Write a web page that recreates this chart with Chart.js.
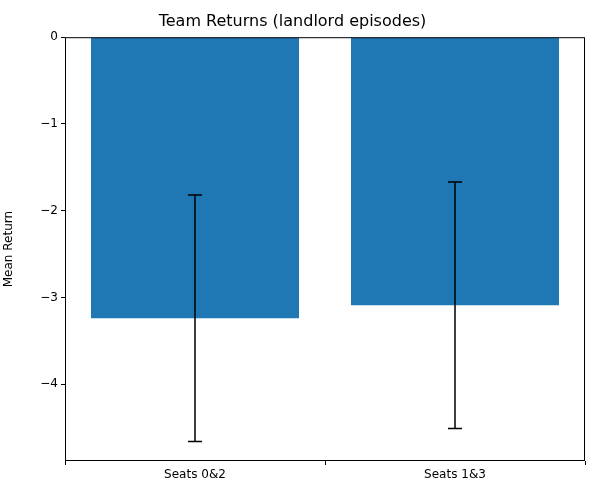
<!DOCTYPE html>
<html>
<head>
<meta charset="UTF-8">
<title>Team Returns</title>
<script src="https://cdn.jsdelivr.net/npm/chart.js"></script>
<style>body{margin:0;background:#fff}</style>
</head>
<body>
<canvas id="c" width="600" height="500"></canvas>
<script>
const labels = ['Seats 0&2', 'Seats 1&3'];
const means = [-3.24, -3.09];
const errors = [1.42, 1.42];

// error bars + axes box
const errorBars = {
  id: 'errorBars',
  afterDatasetsDraw(chart) {
    const ctx = chart.ctx, y = chart.scales.y, a = chart.chartArea;
    const meta = chart.getDatasetMeta(0);
    ctx.save();
    ctx.strokeStyle = '#000';
    ctx.lineWidth = 1.5;
    meta.data.forEach((bar, i) => {
      const top = y.getPixelForValue(means[i] + errors[i]);
      const bot = y.getPixelForValue(means[i] - errors[i]);
      ctx.beginPath();
      ctx.moveTo(bar.x, top); ctx.lineTo(bar.x, bot);
      ctx.moveTo(bar.x - 7, top); ctx.lineTo(bar.x + 7, top);
      ctx.moveTo(bar.x - 7, bot); ctx.lineTo(bar.x + 7, bot);
      ctx.stroke();
    });
    ctx.lineWidth = 1;
    ctx.strokeRect(a.left + 0.5, a.top + 0.5, a.right - a.left - 1, a.bottom - a.top - 1);
    ctx.restore();
  }
};

new Chart(document.getElementById('c'), {
  type: 'bar',
  data: {
    labels: labels,
    datasets: [{
      data: means,
      backgroundColor: '#1f77b4',
      barPercentage: 0.8,
      categoryPercentage: 1.0
    }]
  },
  options: {
    responsive: false,
    animation: false,
    layout: { padding: { left: 0, right: 15 } },
    plugins: {
      legend: { display: false },
      tooltip: { enabled: false },
      title: {
        display: true,
        text: 'Team Returns (landlord episodes)',
        color: '#000',
        font: { family: 'DejaVu Sans', size: 16, weight: 'normal' },
        padding: { top: 12, bottom: 6 }
      }
    },
    scales: {
      x: {
        afterFit(s) { s.height = 39; },
        grid: { drawOnChartArea: false, tickLength: 4, color: '#000' },
        border: { display: false },
        ticks: { color: '#000', font: { family: 'DejaVu Sans', size: 12 } }
      },
      y: {
        min: -4.885,
        max: 0,
        afterFit(s) { s.width = 65; },
        afterBuildTicks(s) { s.ticks = [0, -1, -2, -3, -4].map(v => ({ value: v })); },
        grid: { drawOnChartArea: false, tickLength: 4, color: '#000' },
        border: { display: false },
        title: { display: true, text: 'Mean Return', color: '#000', font: { family: 'DejaVu Sans', size: 12 }, padding: 2 },
        ticks: {
          color: '#000',
          font: { family: 'DejaVu Sans', size: 12 },
          callback: v => (v < 0 ? '\u2212' + Math.abs(v) : String(v))
        }
      }
    }
  },
  plugins: [errorBars]
});
</script>
</body>
</html>
